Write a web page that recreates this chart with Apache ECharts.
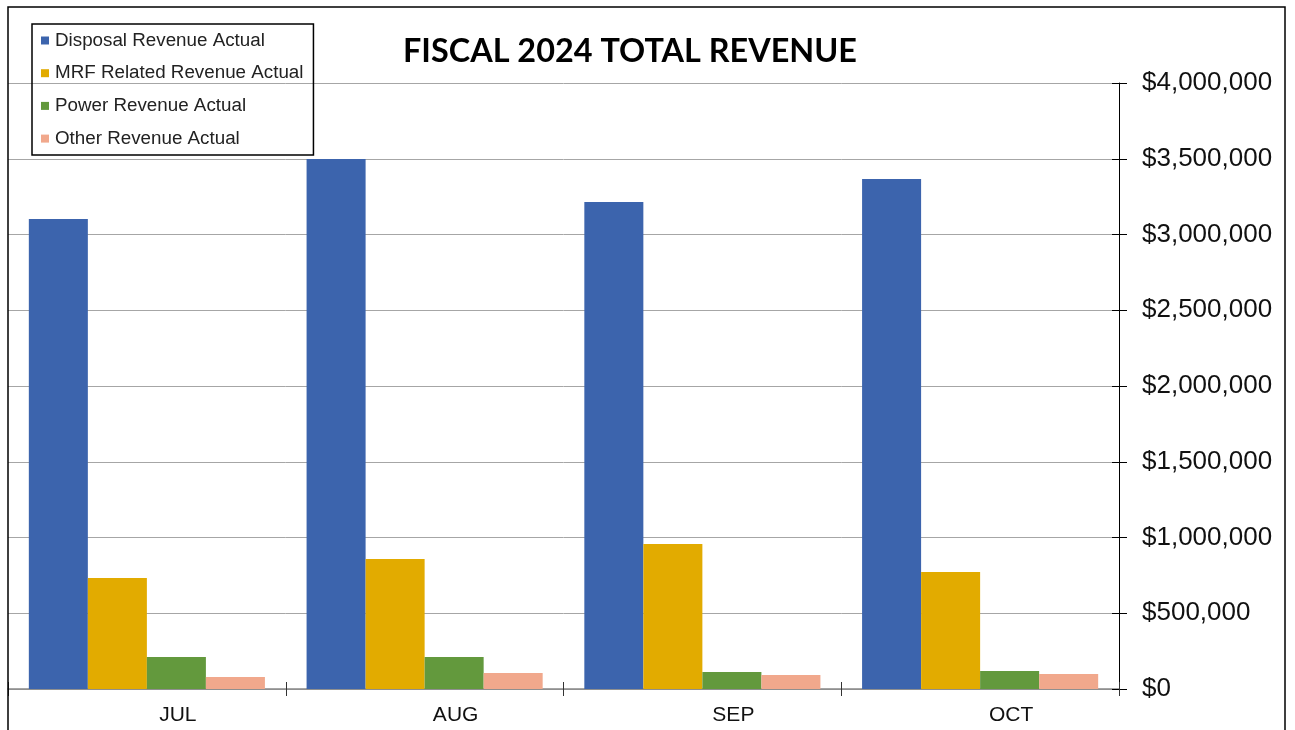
<!DOCTYPE html>
<html>
<head>
<meta charset="utf-8">
<script src="https://cdn.jsdelivr.net/npm/echarts@6/dist/echarts.min.js"></script>
<style>
html, body { margin: 0; padding: 0; background: #fff; }
#main { width: 1295px; height: 730px; }
</style>
</head>
<body>
<div id="main"></div>
<script>
// data
var months = ['JUL', 'AUG', 'SEP', 'OCT'];
var disposal = [3102000, 3498000, 3215000, 3366000];
var mrf = [733000, 858000, 957000, 772000];
var power = [211000, 211000, 112000, 119000];
var other = [79000, 106000, 92000, 99000];
var seriesNames = ['Disposal Revenue Actual', 'MRF Related Revenue Actual', 'Power Revenue Actual', 'Other Revenue Actual'];
var colors = ['#3c64ad', '#e2ab00', '#63993d', '#f1a88c'];

var myChart = echarts.init(document.getElementById('main'));

function money(v) {
    return '$' + v.toLocaleString('en-US');
}

var option = {
    animation: false,
    color: colors,
    title: {
        text: 'FISCAL 2024 TOTAL REVENUE',
        left: 625,
        textAlign: 'center',
        top: 31,
        textStyle: { fontFamily: 'Lato', fontWeight: 'bold', fontSize: 32.4, color: '#000' }
    },
    legend: {
        orient: 'vertical',
        left: 32,
        top: 24,
        padding: [7, 10, 7, 9],
        itemWidth: 8,
        itemHeight: 8,
        itemGap: 13.7,
        icon: 'rect',
        borderColor: '#000',
        borderWidth: 1.5,
        textStyle: { fontFamily: 'Liberation Sans', fontSize: 18.8, color: '#222', padding: [0, 0, 0, 1] },
        data: seriesNames
    },
    graphic: [{
        type: 'rect',
        shape: { x: 8, y: 7, width: 1277, height: 740 },
        style: { fill: null, stroke: '#000', lineWidth: 1.5 },
        z: 100
    }],
    grid: { left: 8, right: 176, top: 83, bottom: 41 },
    xAxis: [{
        type: 'category',
        data: months,
        axisLine: { lineStyle: { color: '#888', width: 1.5 } },
        axisTick: { show: true, length: 7, lineStyle: { color: '#333' } },
        axisLabel: { fontFamily: 'Liberation Sans', fontSize: 21, color: '#111', margin: 16, padding: [0, 0, 0, 62] }
    }, {
        type: 'category',
        data: months,
        position: 'bottom',
        axisLine: { show: false },
        axisTick: { show: true, inside: true, length: 7, lineStyle: { color: '#333' } },
        axisLabel: { show: false }
    }],
    yAxis: [{
        type: 'value',
        position: 'right',
        min: 0,
        max: 4000000,
        interval: 500000,
        axisLine: { show: true, lineStyle: { color: '#000', width: 1 } },
        axisTick: { show: true, length: 8, lineStyle: { color: '#000' } },
        splitLine: { lineStyle: { color: '#a6a6a6', width: 1 } },
        axisLabel: {
            fontFamily: 'Liberation Sans', fontSize: 26, color: '#111', margin: 23,
            formatter: money
        }
    }, {
        type: 'value',
        position: 'right',
        min: 0,
        max: 4000000,
        interval: 500000,
        axisLine: { show: false },
        axisTick: { show: true, inside: true, length: 7, lineStyle: { color: '#000' } },
        splitLine: { show: false },
        axisLabel: { show: false }
    }],
    series: [
        { name: seriesNames[0], type: 'bar', data: disposal, barGap: '0%', barCategoryGap: '15%' },
        { name: seriesNames[1], type: 'bar', data: mrf, barGap: '0%', barCategoryGap: '15%' },
        { name: seriesNames[2], type: 'bar', data: power, barGap: '0%', barCategoryGap: '15%' },
        { name: seriesNames[3], type: 'bar', data: other, barGap: '0%', barCategoryGap: '15%' }
    ]
};

myChart.setOption(option);
</script>
</body>
</html>
